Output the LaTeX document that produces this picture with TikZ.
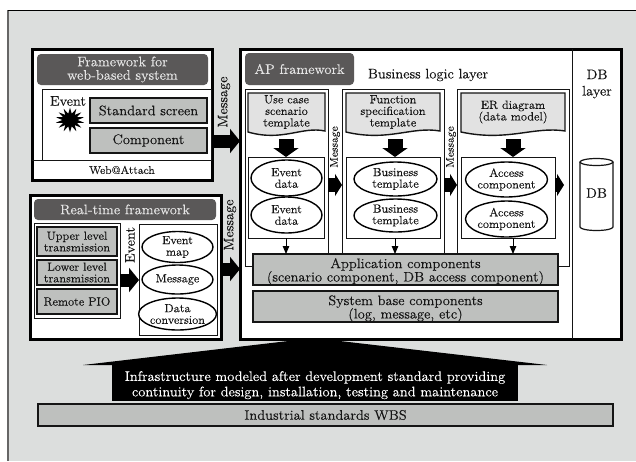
\documentclass[tikz,border=0pt]{standalone}
\usepackage{fontspec}
\setmainfont{Latin Modern Roman}[FakeStretch=1.05,FakeBold=0.25]
\usetikzlibrary{arrows.meta,shapes.geometric}
\definecolor{bgc}{HTML}{DCDEDD}
\definecolor{boxc}{HTML}{BEC0BE}
\definecolor{titlec}{HTML}{5A5858}
\definecolor{tmplc}{HTML}{E2E2E2}
\definecolor{inkc}{HTML}{151515}
\newcommand\fsA{\fontsize{13.8}{13.4}\selectfont}
\newcommand\fsB{\fontsize{11.8}{11.6}\selectfont}
\newcommand\fsC{\fontsize{11.2}{11}\selectfont}
\newcommand\bx[6][]{\node[#1,minimum width={(#5-#3)*1pt},minimum height={(#6-#4)*1pt}] (#2) at ({(#3+#5)/2},{(#4+#6)/2})}
\newcommand\el[5]{\node[ovalnode,minimum width={(#4-#2)*1pt},minimum height={(#5-#3)*1pt}] (#1) at ({(#2+#4)/2},{(#3+#5)/2})}
\newcommand\tmpl[4]{% name x1 x2 text
  \draw[line width=1.4pt,fill=tmplc,draw=inkc] (#2,93) -- (#3,93) -- (#3,131)
     .. controls ({#3-0.3*(#3-#2)},126) and ({#2+0.45*(#3-#2)},142) .. (#2,132) -- cycle;
  \node[plain] (#1) at ({(#2+#3)/2},112) {#4};}
\tikzset{
  x=1pt,y=-1pt,
  plain/.style={inner sep=0pt,outer sep=0pt,align=center,text=inkc,font=\fsB},
  frame/.style={plain,draw=black,fill=white,line width=3pt},
  thinbox/.style={plain,draw=inkc,fill=white,line width=1pt},
  graybox/.style={plain,draw=inkc,fill=boxc,line width=1.7pt,font=\fsA},
  graysmall/.style={graybox,font=\fsB},
  titlebar/.style={plain,fill=titlec,rounded corners=4pt,text=white!90!black,font=\fsA},
  ovalnode/.style={ellipse,plain,draw=black,fill=white,line width=1.4pt},
  fatone/.style={draw=black,line width=13pt,-{Triangle[length=10pt,width=24pt]}},
  fatdown/.style={draw=black,line width=15pt,-{Triangle[length=9pt,width=25pt]}},
  fatmid/.style={draw=black,line width=14pt,-{Triangle[length=7pt,width=22pt]}},
  thinarrow/.style={draw=black,line width=1pt,-{Triangle[length=8pt,width=6.5pt]}},
  lab/.style={plain,font=\fsA,rotate=90},
  labsmall/.style={plain,font=\fsC,rotate=90},
}
\begin{document}
\begin{tikzpicture}
\useasboundingbox (0,0) rectangle (636,461);
% background
\fill[bgc] (8,10) rectangle (636,461);
\draw[black!60,line width=1.2pt] (8,10) -- (8,461);
\draw[black,line width=1pt] (8,10) -- (636,10);
% infrastructure arrow
\node[plain,font=\fsA,fill=black,text=white,minimum width=406pt,minimum height=36pt] (infra) at (315,383)
  {\rule{0pt}{14pt}Infrastructure modeled after development standard providing\\[2pt]continuity for design, installation, testing and maintenance};
\coordinate (apex) at (314,338);
\fill[black] (infra.north west) -- (83,365) -- (apex) -- (547,365) -- (infra.north east) -- cycle;
% WBS
\bx[graybox]{wbs}{38}{404}{613}{426}{Industrial standards WBS};
% web framework
\bx[frame]{web}{32}{49}{212}{180}{};
\bx[titlebar]{webt}{37}{54}{208}{85}{Framework for\\web-based system};
\bx[thinbox]{webi}{42}{89}{211}{160}{};
\draw[inkc,line width=1pt] (web.west |- webi.south) -- (web.east |- webi.south);
\node[plain,font=\fsA] (webev) at (68,101) {Event};
\node[star,star points=14,star point ratio=1.9,fill=black,inner sep=0pt,minimum size=29pt,yscale=.85] (burst) at (70,120) {};
\bx[graybox]{std}{90}{98}{207}{123}{Standard screen};
\bx[graybox]{comp}{90}{128}{207}{153}{Component};
\node[plain,font=\fsC] (attach) at (122,170) {Web@Attach};
% real time framework
\bx[frame]{rt}{30}{195}{221}{339}{};
\bx[titlebar]{rtt}{34}{199}{216}{220}{Real-time framework};
\bx[plain,draw=inkc,fill=white,line width=1pt]{rtl}{34}{223}{120}{318}{};
\bx[graysmall]{up}{37}{227}{117}{256}{Upper level\\transmission};
\bx[graysmall]{low}{37}{260}{117}{285}{Lower level\\transmission};
\bx[graysmall]{pio}{37}{289}{117}{314}{Remote PIO};
\bx[thinbox]{rtr}{139}{224}{217}{335}{};
\el{emap}{142}{233}{213}{261}{Event\\map};
\el{emsg}{142}{265}{213}{294}{Message};
\el{econv}{142}{298}{213}{330}{Data\\conversion};
\node[lab] (evl) at (130,245) {Event};
\coordinate (ev) at (0,280);
\draw[fatone] (rtl.east |- ev) -- (rtr.west |- ev);
% main frame
\bx[frame]{main}{240}{49}{621}{339}{};
\draw[inkc,line width=1pt] (572,49) -- (572,339);
\bx[titlebar]{apt}{245}{53}{354}{85}{AP framework};
\node[plain,font=\fsA] (bll) at (428,75) {Business logic layer};
\node[plain,font=\fsA,align=center] (dbl) at (597,84) {DB\\[3pt]layer};
% columns
\bx[thinbox]{c1}{245}{89}{328}{266}{};
\bx[thinbox]{c2}{342}{89}{444}{262}{};
\bx[thinbox]{c3}{457}{89}{569}{266}{};
\tmpl{t1}{248}{325}{Use case\\scenario\\template}
\tmpl{t2}{346}{440}{Function\\specification\\template}
\tmpl{t3}{461}{565}{ER diagram\\(data model)}
\bx[thinbox]{b1}{248}{157}{324}{238}{};
\bx[thinbox]{b2}{346}{157}{440}{238}{};
\bx[thinbox]{b3}{461}{157}{555}{238}{};
\el{a1}{251}{160}{322}{196}{Event\\data};
\el{a2}{251}{197}{322}{233}{Event\\data};
\el{a3}{354}{162}{437}{196}{Business\\template};
\el{a4}{354}{199}{437}{232}{Business\\template};
\el{a5}{471}{162}{542}{197}{Access\\component};
\el{a6}{471}{201}{542}{237}{Access\\component};
% down arrows
\coordinate (d1) at (286,139);
\coordinate (d2) at (395,139);
\coordinate (d3) at (513,139);
\draw[fatdown] (d1) -- (d1 |- b1.north);
\draw[fatdown] (d2) -- (d2 |- b2.north);
\draw[fatdown] (d3) -- (d3 |- b3.north);
% application components
\bx[graybox]{app}{253}{254}{558}{285}{\rule{0pt}{14pt}Application components\\(scenario component, DB access component)};
\bx[graybox]{sys}{253}{291}{558}{322}{\rule{0pt}{14pt}System base components\\(log, message, etc)};
\draw[thinarrow] (b1.south -| d1) -- (app.north -| d1);
\draw[thinarrow] (b2.south -| d2) -- (app.north -| d2);
\draw[thinarrow] (b3.south -| d3) -- (app.north -| d3);
% mid arrows
\coordinate (m) at (0,185);
\draw[fatmid] (c1.east |- m) -- (c2.west |- m);
\draw[fatmid] (c2.east |- m) -- (c3.west |- m);
\coordinate (dbarrow) at (564,185);
\draw[fatmid] (b3.east |- m) -- (dbarrow);
\node[labsmall] (mg1) at (335,147) {Message};
\node[labsmall] (mg2) at (451,147) {Message};
% db cylinder
\draw[inkc,fill=white,line width=1.2pt] (580,162) -- (580,227) arc[start angle=180,end angle=360,x radius=16.5,y radius=-3.5] -- (613,162);
\draw[inkc,fill=white,line width=1.2pt] (596.5,162) ellipse[x radius=16.5,y radius=3.5];
\node[plain,font=\fsA] (db) at (596.5,193) {DB};
% outer connectors
\coordinate (mw) at (0,141);
\coordinate (mr) at (0,269);
\draw[fatone] (web.east |- mw) -- (main.west |- mw);
\draw[fatone] (rt.east |- mr) -- (main.west |- mr);
\node[lab] (mgw) at (224,102) {Message};
\node[lab] (mgr) at (230,225) {Message};
\end{tikzpicture}
\end{document}
